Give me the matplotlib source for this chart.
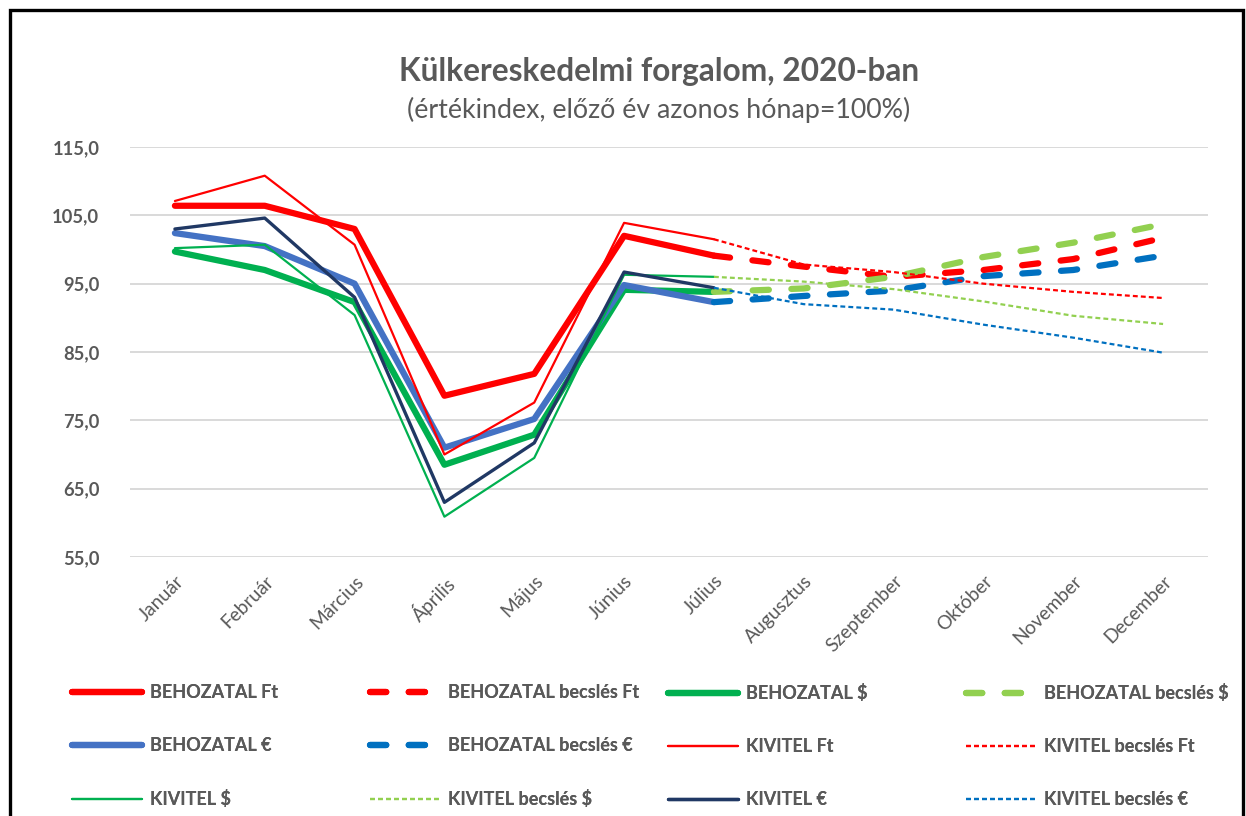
import numpy as np
import matplotlib
matplotlib.use("Agg")
import matplotlib.pyplot as plt
from matplotlib.patches import Rectangle

plt.rcParams['font.family'] = ['Lato', 'DejaVu Sans']

months = ['Január', 'Február', 'Március', 'Április', 'Május', 'Június',
          'Július', 'Augusztus', 'Szeptember', 'Október', 'November', 'December']
nan = np.nan

# tény adatok (jan-júl)
beh_ft = [106.4, 106.4, 103.0, 78.6, 81.8, 102.0, 99.1, nan, nan, nan, nan, nan]
beh_usd = [99.7, 97.0, 92.3, 68.5, 72.9, 94.1, 93.8, nan, nan, nan, nan, nan]
beh_eur = [102.4, 100.5, 95.0, 71.0, 75.2, 94.8, 92.3, nan, nan, nan, nan, nan]
kiv_ft = [107.1, 110.8, 100.7, 70.0, 77.6, 103.9, 101.5, nan, nan, nan, nan, nan]
kiv_usd = [100.2, 100.7, 90.4, 60.9, 69.5, 96.3, 96.0, nan, nan, nan, nan, nan]
kiv_eur = [103.0, 104.6, 93.0, 63.0, 71.7, 96.7, 94.4, nan, nan, nan, nan, nan]

# becslések (júl-dec)
beh_ft_b = [nan]*6 + [99.1, 97.5, 96.0, 97.0, 98.6, 101.7]
beh_usd_b = [nan]*6 + [93.8, 94.3, 96.0, 98.9, 101.0, 103.7]
beh_eur_b = [nan]*6 + [92.3, 93.2, 94.0, 96.1, 97.0, 99.1]
kiv_ft_b = [nan]*6 + [101.5, 97.8, 96.7, 95.0, 93.8, 92.9]
kiv_usd_b = [nan]*6 + [96.0, 95.3, 94.2, 92.4, 90.3, 89.1]
kiv_eur_b = [nan]*6 + [94.4, 92.0, 91.2, 89.0, 87.1, 84.9]

W, H = 1246, 816
fig = plt.figure(figsize=(W/100, H/100), dpi=100)
ax = fig.add_axes([130/W, 1-557/H, 1078/W, 410/H])

x = np.arange(len(months))
red = '#FF0000'
green = '#00B050'
lgreen = '#92D050'
blue = '#4472C4'
dblue = '#0070C0'
navy = '#203864'

thick = 4.5
thin = 1.6
bdash = (2.6, 3.6)
sdash = (2.2, 1.4)

series = [
    ('BEHOZATAL Ft', beh_ft, red, thick, None),
    ('BEHOZATAL becslés Ft', beh_ft_b, red, thick, bdash),
    ('BEHOZATAL $', beh_usd, green, thick, None),
    ('BEHOZATAL becslés $', beh_usd_b, lgreen, thick, bdash),
    ('BEHOZATAL €', beh_eur, blue, thick, None),
    ('BEHOZATAL becslés €', beh_eur_b, dblue, thick, bdash),
    ('KIVITEL Ft', kiv_ft, red, thin, None),
    ('KIVITEL becslés Ft', kiv_ft_b, red, thin, sdash),
    ('KIVITEL $', kiv_usd, green, thin, None),
    ('KIVITEL becslés $', kiv_usd_b, lgreen, thin, sdash),
    ('KIVITEL €', kiv_eur, navy, 2.4, None),
    ('KIVITEL becslés €', kiv_eur_b, dblue, thin, sdash),
]

handles = []
for name, vals, col, lw, dash in series:
    if dash is None:
        ln, = ax.plot(x, vals, color=col, lw=lw, label=name, solid_capstyle='round',
                      solid_joinstyle='round')
    else:
        ln, = ax.plot(x, vals, color=col, lw=lw, label=name, dashes=dash,
                      dash_capstyle='round' if lw > 3 else 'butt')
    handles.append(ln)

ax.set_xlim(-0.5, 11.5)
ax.set_ylim(55, 115)
ax.set_yticks(np.arange(55, 116, 10))
ax.set_yticklabels([f'{v:.1f}'.replace('.', ',') for v in np.arange(55, 116, 10)],
                   fontsize=13.2, fontweight='bold', color='#595959')
ax.set_xticks(x)
ax.set_xticklabels(months, rotation=45, ha='right', rotation_mode='anchor',
                   fontsize=13.8, color='#595959')
ax.tick_params(axis='both', length=0)
ax.tick_params(axis='y', pad=22)
ax.tick_params(axis='x', pad=11)
ax.grid(axis='y', color='#D9D9D9', lw=1.4)
ax.set_axisbelow(True)
for s in ax.spines.values():
    s.set_visible(False)

fig.text(659/W, 1-72/H, 'Külkereskedelmi forgalom, 2020-ban', ha='center', va='center',
         fontsize=22.8, fontweight='bold', color='#595959')
fig.text(659/W, 1-110/H, '(értékindex, előző év azonos hónap=100%)', ha='center',
         va='center', fontsize=19.3, color='#595959')

# legend: 4 oszlop, soronként töltve mint az Excelben
col_x = [72, 370, 668, 966]
for c in range(4):
    hs = [handles[c], handles[c+4], handles[c+8]]
    lg = fig.legend(handles=hs, loc='upper left', bbox_to_anchor=(col_x[c]/W, 1-684/H),
                    frameon=False, ncol=1, borderpad=0, borderaxespad=0,
                    handlelength=3.9, handletextpad=0.4, labelspacing=2.0,
                    prop={'size': 13, 'weight': 'bold'}, labelcolor='#595959')
    fig.add_artist(lg)

# keret
fig.add_artist(Rectangle((10/W, -0.1), 1233/W, 1.1-10/H, transform=fig.transFigure,
                         fill=False, edgecolor='black', lw=2.4))

fig.savefig('out.png', dpi=100)
